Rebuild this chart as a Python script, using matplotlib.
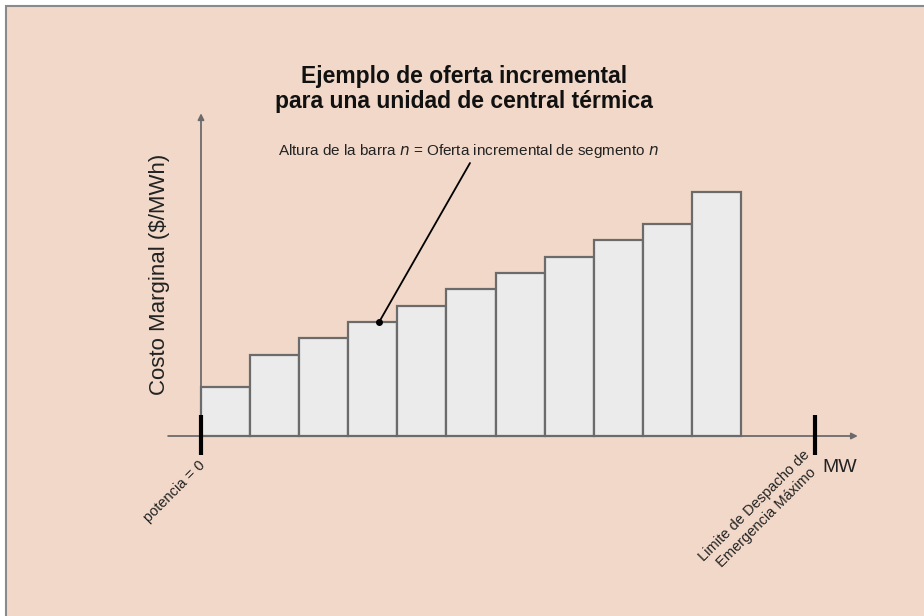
"""
oferta incremental por segmentos para una unidad termica
"""
import matplotlib
matplotlib.use('Agg')
import matplotlib.pyplot as plt
from matplotlib.patches import Rectangle

# altura de cada barra (costo marginal, $/MWh) por segmento de potencia
segmentos = list(range(11))
costo = [15, 25, 30, 35, 40, 45, 50, 55, 60, 65, 75]
potencia_max = 12.5   # limite de despacho de emergencia maximo
segmento_nota = 3     # barra senalada por la nota

W, H = 924, 616
bg = '#F1D8C9'
plt.rcParams['font.family'] = ['Liberation Sans', 'DejaVu Sans']

def px(x, y):
    # pixel -> figure fraction
    return x / W, 1 - y / H

fig = plt.figure(figsize=(W / 100, H / 100), dpi=100)
fig.patches.append(Rectangle(px(6, 6), 1.1, -1.1, transform=fig.transFigure,
                             facecolor=bg, edgecolor='#8a8a8a', lw=1.5, zorder=-5))

ax = fig.add_axes([0, 0, 1, 1])
ax.set_facecolor('none')
ax.axis('off')
sx, sy = 49.09, 3.26
ax.set_xlim(-201 / sx, (W - 201) / sx)
ax.set_ylim(-(H - 436) / sy, 436 / sy)

ax.bar(segmentos, costo, width=1, align='edge', color='#EBEBEB',
       edgecolor='#6b6b6b', linewidth=1.6, zorder=2)

# ejes con flechas
ax.annotate('', xy=(0, 99), xytext=(0, 0),
            arrowprops=dict(arrowstyle='-|>', color='#6b6b6b', lw=1.3,
                            mutation_scale=9, shrinkA=0, shrinkB=0), zorder=3)
ax.annotate('', xy=(13.38, 0), xytext=(-0.67, 0),
            arrowprops=dict(arrowstyle='-|>', color='#6b6b6b', lw=1.3,
                            mutation_scale=9, shrinkA=0, shrinkB=0), zorder=3)
for xm in [0, potencia_max]:
    ax.plot([xm, xm], [-5.8, 6.4], color='black', lw=3, solid_capstyle='butt', zorder=4)

# nota
ax.plot(segmento_nota + 0.63, costo[segmento_nota], 'o', color='black', ms=4, zorder=5)
ax.annotate('', xy=(segmento_nota + 0.63, costo[segmento_nota]),
            xytext=px(470, 163), textcoords='figure fraction',
            arrowprops=dict(arrowstyle='-', color='black', lw=1.3,
                            shrinkA=0, shrinkB=0), zorder=5)
fig.text(*px(468, 151), 'Altura de la barra $\\it{n}$ = Oferta incremental de segmento $\\it{n}$',
         ha='center', va='center', fontsize=11, color='#222222')

fig.text(*px(464, 89), 'Ejemplo de oferta incremental\npara una unidad de central térmica',
         ha='center', va='center', fontsize=16.5, fontweight='bold',
         linespacing=1.1, color='#111111')
fig.text(*px(160, 274), 'Costo Marginal ($/MWh)', rotation=90,
         ha='center', va='center', fontsize=16, color='#222222')
fig.text(*px(840, 468), 'MW', ha='center', va='center', fontsize=14, color='#222222')
fig.text(*px(198, 458), 'potencia = 0', rotation=45, rotation_mode='anchor',
         ha='right', va='top', fontsize=10.5, color='#222222')
fig.text(*px(803, 448), 'Limite de Despacho de\nEmergencia Máximo', rotation=45,
         rotation_mode='anchor', ha='right', va='top', multialignment='center',
         fontsize=10.5, color='#222222')

plt.savefig('out.png', dpi=100)
